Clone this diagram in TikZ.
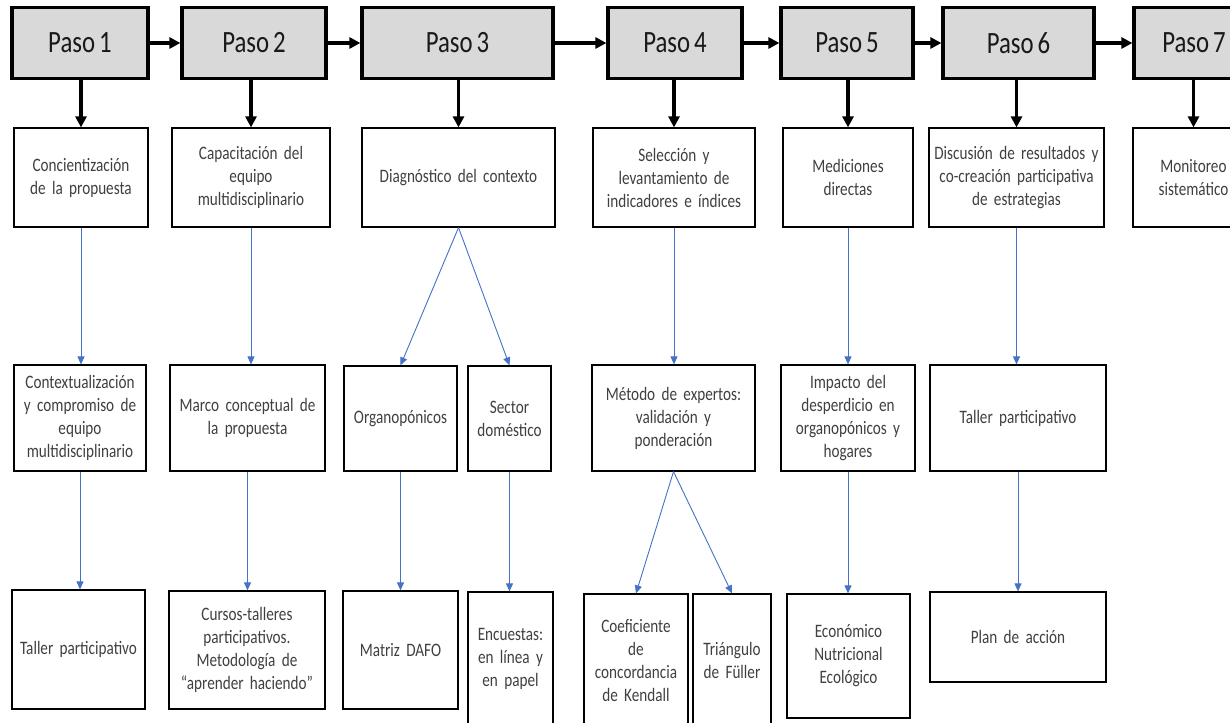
\documentclass[tikz,border=0pt]{standalone}
\usepackage{fontspec}
\setmainfont{Carlito}[FakeStretch=0.8]
\usetikzlibrary{arrows.meta}
\definecolor{hdrfill}{HTML}{D9D9D9}
\definecolor{txtgray}{HTML}{404040}
\definecolor{lnblue}{HTML}{4472C4}
\newcommand\hdrfnt{\fontsize{31}{36}\selectfont\spaceskip 4pt\relax}
\newcommand\subfnt{\fontsize{19}{23}\selectfont\spaceskip 2.8pt\relax}
\tikzset{
  hdr/.style={draw=black, line width=3.2pt, fill=hdrfill, inner sep=0pt,
    text=black!90, font=\hdrfnt},
  sub/.style={draw=black, line width=1.2pt, fill=white, inner sep=0pt, align=center,
    text=txtgray, font=\subfnt},
  blk/.style={draw=black, line width=3.2pt, -{Triangle[length=11pt,width=11pt]}},
  blu/.style={draw=lnblue, line width=0.9pt, -{Triangle[length=8pt,width=7pt]}}
}
\newcommand\bx[6]{%
  \pgfmathsetmacro\bxw{#4-#2}\pgfmathsetmacro\bxh{#5-#3}\pgfmathsetmacro\bxtw{#4-#2-4}%
  \node[sub, text width=\bxtw pt, minimum width=\bxw pt, minimum height=\bxh pt]
    (#1) at ({(#2+#4)/2},{(#3+#5)/2}) {#6};}
\newcommand\hd[4]{%
  \pgfmathsetmacro\bxw{#3-#2}%
  \node[hdr, minimum width=\bxw pt, minimum height=71pt] (#1) at ({(#2+#3)/2},43) {#4};}
\begin{document}
\begin{tikzpicture}[x=1pt,y=-1pt]
\fill[white] (0,0) rectangle (1230,722);
\useasboundingbox (0,0) rectangle (1230,722);
\clip (0,0) rectangle (1230,722);
% headers
\hd{h1}{12}{148}{Paso 1}
\hd{h2}{182}{326}{Paso 2}
\hd{h3}{362}{553}{Paso 3}
\hd{h4}{608}{742}{Paso 4}
\hd{h5}{781}{913}{Paso 5}
\hd{h6}{943}{1094}{Paso 6}
\hd{h7}{1134}{1254}{Paso 7}
% row 1
\bx{b1}{14}{128}{148}{227}{Concientización\\de la propuesta}
\bx{b2}{172}{128}{330}{227}{Capacitación del\\equipo\\multidisciplinario}
\bx{b3}{362}{128}{555}{227}{Diagnóstico del contexto}
\bx{b4}{593}{128}{755}{227}{Selección y\\levantamiento de\\indicadores e índices}
\bx{b5}{783}{128}{913}{227}{Mediciones\\directas}
\bx{b6}{929}{128}{1104}{227}{Discusión de resultados y\\co-creación participativa\\de estrategias}
\bx{b7}{1133}{128}{1254}{227}{Monitoreo\\sistemático}
% row 2
\bx{c1}{14}{365}{146}{471}{Contextualización\\y compromiso de\\equipo\\multidisciplinario}
\bx{c2}{170}{365}{325}{471}{Marco conceptual de\\la propuesta}
\bx{c3a}{344}{366}{457}{471}{Organopónicos}
\bx{c3b}{468}{366}{551}{471}{Sector\\doméstico}
\bx{c4}{592}{365}{755}{471}{Método de expertos:\\validación y\\ponderación}
\bx{c5}{781}{365}{915}{471}{Impacto del\\desperdicio en\\organopónicos y\\hogares}
\bx{c6}{930}{365}{1106}{471}{Taller participativo}
% row 3
\bx{d1}{12}{590}{145}{709}{Taller participativo}
\bx{d2}{169}{591}{325}{709}{Cursos-talleres\\participativos.\\Metodología de\\“aprender haciendo”}
\bx{d3a}{343}{591}{458}{709}{Matriz DAFO}
\bx{d3b}{468}{592}{553}{726}{Encuestas:\\en línea y\\en papel}
\bx{d4a}{584}{594}{688}{726}{Coeficiente\\de\\concordancia\\de Kendall}
\bx{d4b}{693}{594}{771}{726}{Triángulo\\de Füller}
\bx{d5}{787}{594}{910}{718}{Económico\\Nutricional\\Ecológico}
\bx{d6}{930}{592}{1106}{682}{Plan de acción}
% header chain
\draw[blk] (h1.east) -- (h2.west);
\draw[blk] (h2.east) -- (h3.west);
\draw[blk] (h3.east) -- (h4.west);
\draw[blk] (h4.east) -- (h5.west);
\draw[blk] (h5.east) -- (h6.west);
\draw[blk] (h6.east) -- (h7.west);
% header to first box
\foreach \i in {1,...,7}{\draw[blk] (b\i.north |- h\i.south) -- (b\i.north);}
% blue connectors
\draw[blu] (b1.south) -- (b1.south |- c1.north);
\draw[blu] (c1.south) -- (c1.south |- d1.north);
\draw[blu] (b2.south) -- (b2.south |- c2.north);
\draw[blu] (c2.south) -- (c2.south |- d2.north);
\draw[blu] (b3.south) -- (c3a.north);
\draw[blu] (b3.south) -- (c3b.north);
\draw[blu] (c3a.south) -- (c3a.south |- d3a.north);
\draw[blu] (c3b.south) -- (c3b.south |- d3b.north);
\draw[blu] (b4.south) -- (b4.south |- c4.north);
\draw[blu] (c4.south) -- (d4a.north);
\draw[blu] (c4.south) -- (d4b.north);
\draw[blu] (b5.south) -- (b5.south |- c5.north);
\draw[blu] (c5.south) -- (c5.south |- d5.north);
\draw[blu] (b6.south) -- (b6.south |- c6.north);
\draw[blu] (c6.south) -- (c6.south |- d6.north);
\end{tikzpicture}
\end{document}
